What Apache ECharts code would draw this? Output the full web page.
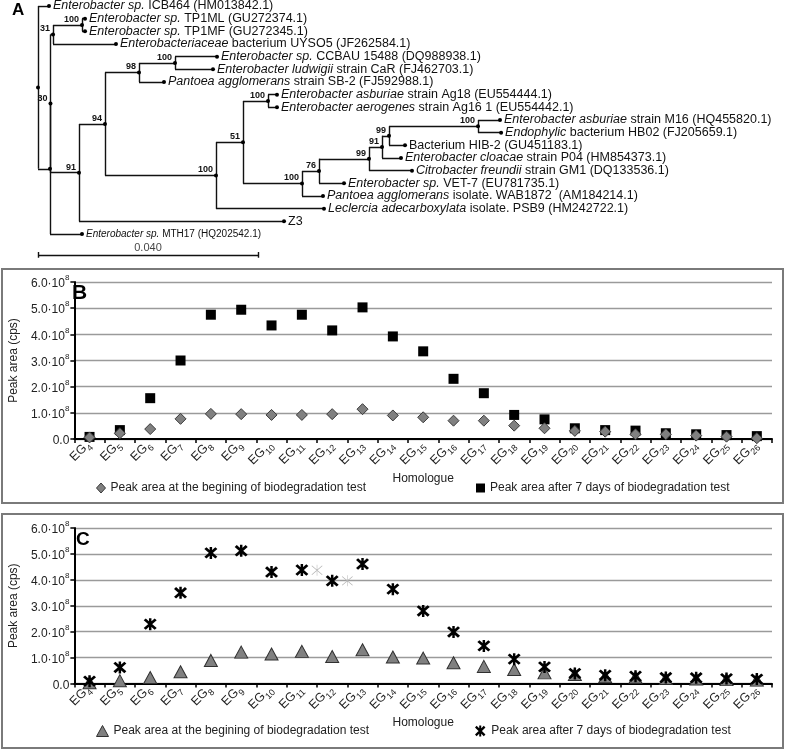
<!DOCTYPE html>
<html><head><meta charset="utf-8">
<script src="https://cdn.jsdelivr.net/npm/echarts@6/dist/echarts.min.js"></script>
<style>html,body{margin:0;padding:0;background:#fff}#c{width:787px;height:749px}</style>
</head><body><div id="c"></div>
<script>
// ---------------- Panel A : phylogenetic tree ----------------
const leafLabels = [
  '{i|Enterobacter sp.} ICB464 (HM013842.1)',
  '{i|Enterobacter sp.} TP1ML (GU272374.1)',
  '{i|Enterobacter sp.} TP1MF (GU272345.1)',
  '{i|Enterobacteriaceae} bacterium UYSO5 (JF262584.1)',
  '{i|Enterobacter sp.} CCBAU 15488 (DQ988938.1)',
  '{i|Enterobacter ludwigii} strain CaR (FJ462703.1)',
  '{i|Pantoea agglomerans} strain SB-2 (FJ592988.1)',
  '{i|Enterobacter asburiae} strain Ag18 (EU554444.1)',
  '{i|Enterobacter aerogenes} strain Ag16 1 (EU554442.1)',
  '{i|Enterobacter asburiae} strain M16 (HQ455820.1)',
  '{i|Endophylic} bacterium HB02 (FJ205659.1)',
  'Bacterium HIB-2 (GU451183.1)',
  '{i|Enterobacter cloacae} strain P04 (HM854373.1)',
  '{i|Citrobacter freundii} strain GM1 (DQ133536.1)',
  '{i|Enterobacter sp.} VET-7 (EU781735.1)',
  '{i|Pantoea agglomerans} isolate. WAB1872  (AM184214.1)',
  '{i|Leclercia adecarboxylata} isolate. PSB9 (HM242722.1)',
  'Z3',
  '{si|Enterobacter sp.}{s| MTH17 (HQ202542.1)}'
];
// distance of each leaf from the root (substitutions per site)
const leafDepth = [0.0020, 0.00855, 0.00855, 0.01418, 0.03255, 0.03182, 0.02291,
  0.04345, 0.04345, 0.0840, 0.0842, 0.06673, 0.0660, 0.0680, 0.05564, 0.05182,
  0.0520, 0.04473, 0.0080];
// internal nodes: [id, depth, bootstrap, child A, child B]  (numbers = leaf index)
const innerNodes = [
  ['R', 0.0, '', 0, 'X'],
  ['X', 0.00218, '', 'N30', 18],
  ['N30', 0.00227, '30', 'N31', 'N91'],
  ['N31', 0.00273, '31', 'Ntp', 3],
  ['Ntp', 0.0080, '100', 1, 2],
  ['N91', 0.00745, '91', 'N94', 17],
  ['N94', 0.01218, '94', 'N98', 'N100a'],
  ['N98', 0.01836, '98', 'N100b', 6],
  ['N100b', 0.02491, '100', 4, 5],
  ['N100a', 0.03236, '100', 'N51', 16],
  ['N51', 0.03727, '51', 'N100c', 'N100e'],
  ['N100c', 0.04182, '100', 7, 8],
  ['N100e', 0.0480, '100', 'N76', 15],
  ['N76', 0.05109, '76', 'N99b', 14],
  ['N99b', 0.06018, '99', 'N91b', 13],
  ['N91b', 0.06255, '91', 'N99a', 12],
  ['N99a', 0.06382, '99', 'N100d', 11],
  ['N100d', 0.0800, '100', 9, 10]
];
const scaleBarLength = 0.040;
const scaleBarRow = 19.65;

// ---------------- Panels B and C ----------------
const homologues = [4,5,6,7,8,9,10,11,12,13,14,15,16,17,18,19,20,21,22,23,24,25,26];
const startName = 'Peak area at the begining of biodegradation test';
const afterName = 'Peak area after 7 days of biodegradation test';
// values in units of 10^8 cps
const bStart = [0.06,0.22,0.38,0.77,0.96,0.95,0.92,0.92,0.95,1.14,0.90,0.83,0.70,0.70,0.51,0.41,0.31,0.28,0.18,0.18,0.13,0.09,0.03];
const bAfter = [0.08,0.34,1.56,3.00,4.75,4.94,4.34,4.75,4.15,5.03,3.92,3.35,2.30,1.75,0.92,0.75,0.41,0.34,0.32,0.22,0.18,0.15,0.11];
const cStart = [0.03,0.11,0.23,0.45,0.89,1.21,1.14,1.24,1.04,1.30,1.02,0.98,0.80,0.66,0.54,0.41,0.35,0.26,0.24,0.19,0.17,0.15,0.13];
const cAfter = [0.09,0.62,2.29,3.50,5.04,5.12,4.30,4.38,3.96,4.61,3.64,2.80,1.99,1.45,0.94,0.64,0.39,0.32,0.28,0.23,0.22,0.19,0.17];
const cGhost = [[8,4.37],[9,3.96]];
const yMax = 6;

// ---------------- build tree geometry ----------------
const nodeMap = {};
innerNodes.forEach(n => { nodeMap[n[0]] = {id:n[0], d:n[1], boot:n[2], kids:[n[3], n[4]]}; });
function yOf(k){ if (typeof k === 'number') return k; const n = nodeMap[k]; if (n.y === undefined) n.y = (yOf(n.kids[0]) + yOf(n.kids[1])) / 2; return n.y; }
function dOf(k){ return typeof k === 'number' ? leafDepth[k] : nodeMap[k].d; }
const segs = [];
innerNodes.forEach(n => {
  const node = nodeMap[n[0]];
  const ys = node.kids.map(yOf);
  segs.push({coords:[[node.d, Math.min(...ys)], [node.d, Math.max(...ys)]]});
  node.kids.forEach(k => segs.push({coords:[[node.d, yOf(k)], [dOf(k), yOf(k)]]}));
});
segs.push({coords:[[0, scaleBarRow], [scaleBarLength, scaleBarRow]]});
segs.push({coords:[[0, scaleBarRow-0.22], [0, scaleBarRow+0.22]]});
segs.push({coords:[[scaleBarLength, scaleBarRow-0.22], [scaleBarLength, scaleBarRow+0.22]]});

const FONT = '"Liberation Sans", Arial, Helvetica, sans-serif';
const starPath = 'path://M0.5,3.5L3.5,0.5L19.5,16.5L16.5,19.5Z M16.5,0.5L19.5,3.5L3.5,19.5L0.5,16.5Z M8.2,0L11.8,0L11.8,20L8.2,20Z';
const ghostPath = 'path://M1.5,2.3L2.3,1.5L18.5,17.7L17.7,18.5Z M17.7,1.5L18.5,2.3L2.3,18.5L1.5,17.7Z M9.6,0L10.4,0L10.4,20L9.6,20Z';

const yLabelRich = {
  n: {fontSize:12, lineHeight:16, verticalAlign:'bottom', color:'#222', fontFamily:FONT},
  p: {fontSize:8, lineHeight:9, verticalAlign:'top', color:'#222', fontFamily:FONT}
};
const xLabelRich = {
  b: {fontSize:12.5, lineHeight:14, verticalAlign:'top', color:'#222', fontFamily:FONT},
  s: {fontSize:9, lineHeight:16, verticalAlign:'bottom', color:'#222', fontFamily:FONT}
};
function yFmt(v){ return v === 0 ? '{n|0.0}' : '{n|' + v.toFixed(1) + '·10}{p|8}'; }
function xFmt(v){ return '{b|EG}{s|' + v + '}'; }

function catAxis(gi, gap){
  return {type:'category', gridIndex:gi, data:homologues.map(String), boundaryGap:true,
    axisLine:{show:true, lineStyle:{color:'#000', width:2}},
    axisTick:{show:true, length:4, lineStyle:{color:'#000', width:1.5}},
    axisLabel:{interval:0, rotate:45, margin:5, formatter:xFmt, rich:xLabelRich},
    splitLine:{show:false},
    name:'Homologue', nameLocation:'middle', nameGap:gap,
    nameTextStyle:{fontSize:12, color:'#222', fontFamily:FONT}};
}
function valAxis(gi){
  return {type:'value', gridIndex:gi, min:0, max:yMax, interval:1,
    axisLine:{show:true, lineStyle:{color:'#000', width:2}},
    axisTick:{show:true, length:4, lineStyle:{color:'#000', width:1.5}},
    axisLabel:{margin:5, formatter:yFmt, rich:yLabelRich},
    splitLine:{show:true, lineStyle:{color:'#9a9a9a', width:1.3}},
    name:'Peak area (cps)', nameLocation:'middle', nameGap:47, nameRotate:90,
    nameTextStyle:{fontSize:12, color:'#222', fontFamily:FONT}};
}

const chart = echarts.init(document.getElementById('c'), null, {renderer:'canvas'});
chart.setOption({
  animation:false,
  backgroundColor:'#fff',
  textStyle:{fontFamily:FONT},
  title:[
    {text:'A', left:12, top:2, padding:0, textStyle:{fontSize:17, fontWeight:'bold', color:'#000', fontFamily:FONT}},
    {text:'B', left:72, top:283, padding:0, textStyle:{fontSize:21, fontWeight:'bold', color:'#000', fontFamily:FONT}},
    {text:'C', left:76, top:530, padding:0, textStyle:{fontSize:19, fontWeight:'bold', color:'#000', fontFamily:FONT}}
  ],
  graphic:[
    {type:'rect', shape:{x:2, y:269, width:781, height:234}, style:{fill:'none', stroke:'#7a7a7a', lineWidth:2}, z:-1},
    {type:'rect', shape:{x:2, y:514, width:781, height:234}, style:{fill:'none', stroke:'#7a7a7a', lineWidth:2}, z:-1}
  ],
  legend:[
    {left:96, top:482, padding:0, itemWidth:9, itemHeight:10, textStyle:{fontSize:12, color:'#222', fontFamily:FONT},
      data:[{name:startName, icon:'diamond', itemStyle:{color:'#808080', borderColor:'#3a3a3a', borderWidth:1, opacity:1}}]},
    {left:476, top:482, padding:0, itemWidth:9, itemHeight:9, textStyle:{fontSize:12, color:'#222', fontFamily:FONT},
      data:[{name:afterName, icon:'rect', itemStyle:{color:'#000', borderWidth:0, opacity:1}}]},
    {left:96, top:725, padding:0, itemWidth:12, itemHeight:11, textStyle:{fontSize:12, color:'#222', fontFamily:FONT},
      data:[{name:startName, icon:'triangle', itemStyle:{color:'#808080', borderColor:'#303030', borderWidth:1, opacity:1}}]},
    {left:475, top:725, padding:0, itemWidth:12, itemHeight:11, textStyle:{fontSize:12, color:'#222', fontFamily:FONT},
      data:[{name:afterName, icon:starPath, itemStyle:{color:'#000', borderWidth:0, opacity:1}}]}
  ],
  grid:[
    {left:38, top:6, width:550, height:253.3},
    {left:68, top:282, width:704, height:157},
    {left:68, top:528, width:704, height:155.5}
  ],
  xAxis:[
    {type:'value', gridIndex:0, min:0, max:0.1, show:false},
    catAxis(1, 27),
    catAxis(2, 23),
    {type:'value', gridIndex:2, min:0, max:homologues.length, show:false}
  ],
  yAxis:[
    {type:'value', gridIndex:0, min:0, max:20, inverse:true, show:false},
    valAxis(1),
    valAxis(2)
  ],
  series:[
    {type:'lines', coordinateSystem:'cartesian2d', xAxisIndex:0, yAxisIndex:0, silent:true,
      lineStyle:{color:'#111', width:1.4, opacity:1}, data:segs},
    {type:'scatter', xAxisIndex:0, yAxisIndex:0, silent:true, symbol:'circle', symbolSize:4,
      itemStyle:{color:'#000', opacity:1},
      data:innerNodes.map(n => [n[1], yOf(n[0]), n[2]]),
      label:{show:true, position:[-1, 1], align:'right', verticalAlign:'bottom',
        formatter:p => p.value[2], fontSize:9, fontWeight:'bold', color:'#111', fontFamily:FONT}},
    {type:'scatter', xAxisIndex:0, yAxisIndex:0, silent:true, symbol:'circle', symbolSize:4,
      itemStyle:{color:'#000', opacity:1},
      data:leafDepth.map((d, i) => [d, i]),
      label:{show:true, position:'right', distance:2, formatter:p => leafLabels[p.dataIndex],
        fontSize:12.5, color:'#111', fontFamily:FONT,
        rich:{i:{fontStyle:'italic', fontSize:12.5, color:'#111', fontFamily:FONT},
              si:{fontStyle:'italic', fontSize:10, color:'#111', fontFamily:FONT},
              s:{fontSize:10, color:'#111', fontFamily:FONT}}}},
    {type:'scatter', xAxisIndex:0, yAxisIndex:0, silent:true, symbolSize:0,
      data:[[scaleBarLength/2, scaleBarRow]],
      label:{show:true, position:'top', distance:1, formatter:scaleBarLength.toFixed(3), fontSize:11, color:'#111', fontFamily:FONT}},

    {name:afterName, type:'scatter', xAxisIndex:1, yAxisIndex:1, symbol:'rect', symbolSize:10,
      itemStyle:{color:'#000', opacity:1}, data:bAfter},
    {name:startName, type:'scatter', xAxisIndex:1, yAxisIndex:1, symbol:'diamond', symbolSize:11,
      itemStyle:{color:'#808080', borderColor:'#3a3a3a', borderWidth:1, opacity:1}, data:bStart},

    {name:startName, type:'scatter', xAxisIndex:2, yAxisIndex:2, symbol:'triangle', symbolSize:[13,12],
      itemStyle:{color:'#808080', borderColor:'#303030', borderWidth:1, opacity:1}, data:cStart},
    {name:'ghost', type:'scatter', xAxisIndex:3, yAxisIndex:2, symbol:ghostPath, symbolSize:11,
      itemStyle:{color:'#b5b5b5', opacity:1}, data:cGhost},
    {name:afterName, type:'scatter', xAxisIndex:2, yAxisIndex:2, symbol:starPath, symbolSize:[13,12],
      itemStyle:{color:'#000', opacity:1}, data:cAfter}
  ]
});
</script></body></html>
